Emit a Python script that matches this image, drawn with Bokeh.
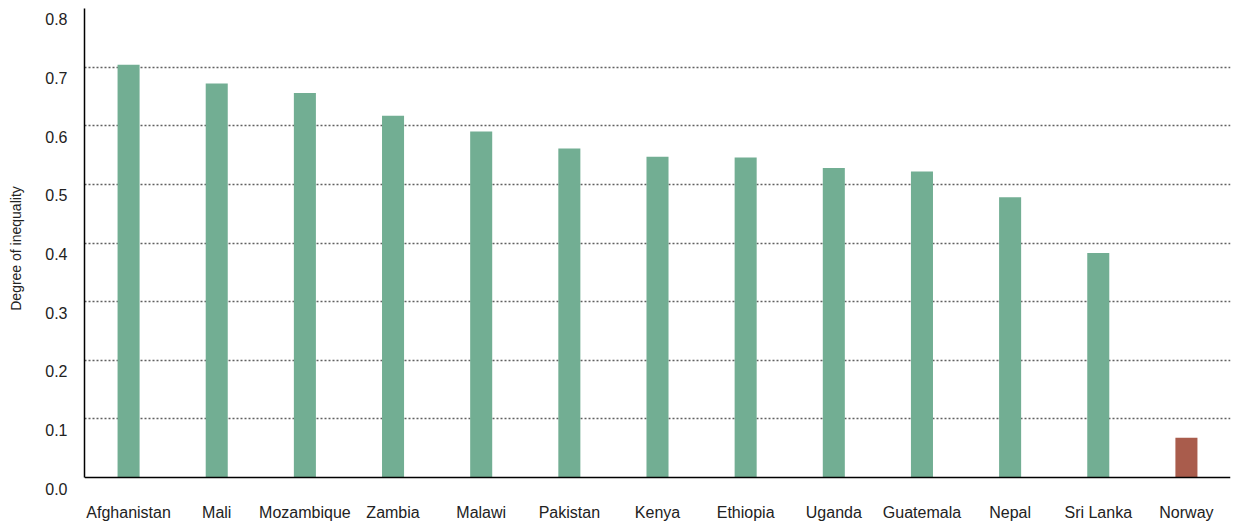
from bokeh.plotting import figure
from bokeh.models import FactorRange, Range1d, LinearAxis, FixedTicker, ColumnDataSource, Span
from bokeh.embed import file_html
from bokeh.resources import INLINE

countries = ["Afghanistan", "Mali", "Mozambique", "Zambia", "Malawi", "Pakistan",
             "Kenya", "Ethiopia", "Uganda", "Guatemala", "Nepal", "Sri Lanka", "Norway"]
inequality = [0.704, 0.672, 0.656, 0.617, 0.590, 0.561, 0.547, 0.546, 0.528,
              0.522, 0.478, 0.383, 0.068]
bar_colors = ["#72ae93"] * 12 + ["#a95c4c"]
y_ticks = [0.0, 0.1, 0.2, 0.3, 0.4, 0.5, 0.6, 0.7, 0.8]
y_tick_labels = {0.0: "0.0", 0.1: "0.1", 0.2: "0.2", 0.3: "0.3", 0.4: "0.4",
                 0.5: "0.5", 0.6: "0.6", 0.7: "0.7", 0.8: "0.8"}

FONT = "Liberation Sans"
TXT = "#222222"
SHIFT = 0.0187  # tick labels sit ~11px below their gridlines

src = ColumnDataSource(dict(country=countries, value=inequality, color=bar_colors))

p = figure(x_range=FactorRange(*countries, range_padding=0),
           y_range=Range1d(-SHIFT, 0.8),
           width=1235, height=523,
           output_backend="svg", toolbar_location=None,
           min_border_left=84, min_border_right=5,
           min_border_top=8, min_border_bottom=33)
p.outline_line_color = None
p.background_fill_color = "white"

p.vbar(x="country", top="value", width=0.25, bottom=0, source=src,
       fill_color="color", line_color=None)

# inner left axis: only the vertical line from 0 to 0.8
ax = p.yaxis[0]
ax.ticker = FixedTicker(ticks=[])
ax.bounds = (0, 0.8)
ax.major_tick_out = 0
ax.major_tick_in = 0
ax.major_label_standoff = 0
ax.axis_line_color = "black"
ax.axis_line_width = 1.5

# grid
p.xgrid.grid_line_color = None
p.ygrid.ticker = FixedTicker(ticks=y_ticks[1:])
p.ygrid.grid_line_color = "#606060"
p.ygrid.grid_line_dash = "2 2"
p.ygrid.grid_line_width = 1.5

# baseline
p.add_layout(Span(location=0, dimension="width", line_color="black", line_width=1.5))

# outer label axis on a shifted range
p.extra_y_ranges = {"lab": Range1d(0, 0.8 + SHIFT)}
lab = LinearAxis(y_range_name="lab", ticker=FixedTicker(ticks=y_ticks))
lab.major_label_overrides = y_tick_labels
lab.axis_line_color = None
lab.major_tick_line_color = None
lab.minor_tick_line_color = None
lab.major_tick_out = 0
lab.major_label_standoff = 17
lab.major_label_text_font = FONT
lab.major_label_text_font_size = "16px"
lab.major_label_text_color = TXT
lab.axis_label = "Degree of inequality"
lab.axis_label_text_font = FONT
lab.axis_label_text_font_size = "14px"
lab.axis_label_text_font_style = "normal"
lab.axis_label_text_color = TXT
lab.axis_label_standoff = 18
p.add_layout(lab, "left")

# x axis
xa = p.xaxis[0]
xa.axis_line_color = None
xa.major_tick_line_color = None
xa.minor_tick_line_color = None
xa.major_tick_out = 0
xa.major_label_standoff = 15
xa.major_label_text_font = FONT
xa.major_label_text_font_size = "16px"
xa.major_label_text_color = TXT

open("out.html", "w").write(file_html(p, INLINE))
